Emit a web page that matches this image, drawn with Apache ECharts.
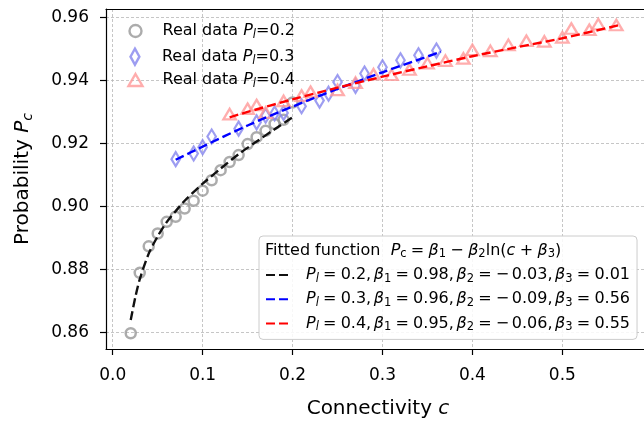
<!DOCTYPE html>
<html>
<head>
<meta charset="utf-8">
<script src="https://cdn.jsdelivr.net/npm/echarts@6/dist/echarts.min.js"></script>
<style>
html,body{margin:0;padding:0;background:#fff;}
#chart{width:644px;height:422px;}
</style>
</head>
<body>
<div id="chart"></div>
<script>
// ---- data ----
const xTicks = [0.0, 0.1, 0.2, 0.3, 0.4, 0.5];
const yTicks = [0.86, 0.88, 0.90, 0.92, 0.94, 0.96];

const grayX = [0.02,0.03,0.04,0.05,0.06,0.07,0.08,0.09,0.10,0.11,0.12,0.13,0.14,0.15,0.16,0.17,0.18,0.19,0.20];
const grayY = [0.8597,0.8789,0.8873,0.8914,0.8951,0.8967,0.8993,0.9018,0.9050,0.9083,0.9115,0.9141,0.9163,0.9198,0.9220,0.9240,0.9262,0.9275,0.9330];

const blueX = [0.07,0.09,0.10,0.11,0.14,0.16,0.17,0.18,0.19,0.21,0.23,0.24,0.25,0.27,0.28,0.30,0.32,0.34,0.36];
const blueY = [0.9150,0.9168,0.9188,0.9222,0.9247,0.9267,0.9288,0.9295,0.9297,0.9318,0.9336,0.9358,0.9395,0.9383,0.9422,0.9442,0.9464,0.9480,0.9495];

const redX = [0.13,0.15,0.16,0.17,0.19,0.21,0.22,0.25,0.27,0.29,0.31,0.33,0.35,0.37,0.39,0.40,0.42,0.44,0.46,0.48,0.50,0.51,0.53,0.54,0.56];
const redY = [0.9293,0.9310,0.9322,0.9298,0.9335,0.9352,0.9364,0.9370,0.9393,0.9420,0.9418,0.9435,0.9455,0.9463,0.9470,0.9497,0.9494,0.9513,0.9526,0.9524,0.9537,0.9565,0.9561,0.9579,0.9576];

const fitBlackX = [0.02,0.025,0.03,0.04,0.05,0.06,0.07,0.08,0.10,0.12,0.14,0.16,0.18,0.20];
const fitBlackY = [0.8639,0.8710,0.8768,0.8850,0.8905,0.8950,0.8985,0.9018,0.9072,0.9120,0.9166,0.9206,0.9245,0.9283];

const fitBlueX = [0.07,0.10,0.15,0.20,0.25,0.30,0.365];
const fitBlueY = [0.9148,0.9190,0.9257,0.9317,0.9373,0.9426,0.9491];

const fitRedX = [0.13,0.15,0.20,0.25,0.30,0.35,0.40,0.45,0.50,0.565];
const fitRedY = [0.9283,0.9300,0.9340,0.9377,0.9412,0.9445,0.9477,0.9506,0.9534,0.9577];

const realNames = ['Real data P_l=0.2','Real data P_l=0.3','Real data P_l=0.4'];
const fitNames = ['P_l = 0.2, β_1 = 0.98, β_2 = −0.03, β_3 = 0.01',
                  'P_l = 0.3, β_1 = 0.96, β_2 = −0.09, β_3 = 0.56',
                  'P_l = 0.4, β_1 = 0.95, β_2 = −0.06, β_3 = 0.55'];

// ---- styling ----
const FONT = 'DejaVu Sans';
const pair = (xs, ys) => xs.map((x, i) => [x, ys[i]]);
const cGray = '#979797', cBlue = '#8585ee', cRed = '#ff9999';

function richSet(fs, sub) {
  return {
    n: {fontFamily: FONT, fontSize: fs, color: '#000', fill:'#000', lineHeight: 20, verticalAlign: 'middle'},
    i: {fontFamily: FONT, fontSize: fs, fontStyle: 'italic', color: '#000', fill:'#000', lineHeight: 20, verticalAlign: 'middle'},
    s: {fontFamily: FONT, fontSize: sub, fontStyle: 'italic', color: '#000', fill:'#000', lineHeight: 20, verticalAlign: 'bottom'},
    sn: {fontFamily: FONT, fontSize: sub, color: '#000', fill:'#000', lineHeight: 20, verticalAlign: 'bottom'},
    gr: {width: 4.2, lineHeight: 20},
    gc: {width: 2.6, lineHeight: 20},
    gm: {width: 2.6, lineHeight: 20},
    gb: {width: 4.4, lineHeight: 20},
    sp1: {width: 16, lineHeight: 20},
    sp2: {width: 17, lineHeight: 20},
    sp3: {width: 15, lineHeight: 20},
    spf: {width: 10, lineHeight: 20}
  };
}

function realFmt(sp) {
  return function (name) {
    const v = name.split('=')[1];
    return '{' + sp + '| }{n|Real data }{i|P}{s|l}{n|=' + v + '}';
  };
}
function fitFmt(name) {
  const parts = name.split(', ');
  let out = '{spf| }';
  parts.forEach((p, k) => {
    const m = p.split(' = ');
    const sym = m[0].split('_');
    const base = sym[0];
    const sub = sym[1];
    let val = m[1];
    out += '{i|' + base + '}' + (sub === 'l' ? '{s|l}' : '{sn|' + sub + '}') + '{gr| }{n|=}{gr| }';
    if (val.charAt(0) === '−') {
      out += '{n|−}{gm| }';
      val = val.slice(1);
    }
    out += '{n|' + val + (k < parts.length - 1 ? ',' : '') + '}' + (k < parts.length - 1 ? '{gc| }' : '');
  });
  return out;
}

const rowY = [33, 57.5, 82];
const iconDims = [[12, 12], [10, 16], [14, 12]];
const iconColors = [cGray, cBlue, cRed];
const iconTypes = ['circle', 'path://M5,0 L10,9 L5,18 L0,9 Z', 'triangle'];
const spNames = ['sp1', 'sp2', 'sp3'];
const iconCx = 134.3;

const realLegends = realNames.map((nm, k) => ({
  show: true,
  selectedMode: false,
  orient: 'vertical',
  left: iconCx - iconDims[k][0] / 2,
  top: rowY[k] - 10,
  padding: 0,
  itemWidth: iconDims[k][0],
  itemHeight: iconDims[k][1],
  data: [{name: nm, icon: iconTypes[k],
          itemStyle: {color: 'rgba(0,0,0,0)', borderColor: iconColors[k], borderWidth: 2.4}}],
  formatter: realFmt(spNames[k]),
  textStyle: {fontFamily: FONT, fontSize: 16, color: '#000', rich: richSet(16, 11.5)}
}));

const fitLegend = {
  show: true,
  selectedMode: false,
  orient: 'vertical',
  align: 'left',
  left: 259,
  top: 236,
  padding: [31, 7, 6, 6],
  itemGap: 6.2,
  itemWidth: 25,
  itemHeight: 14,
  backgroundColor: 'rgba(255,255,255,0.85)',
  borderColor: '#cccccc',
  borderWidth: 1,
  borderRadius: 4,
  z: 10,
  itemStyle: {color: 'rgba(0,0,0,0)', borderWidth: 0, opacity: 0},
  data: fitNames,
  formatter: fitFmt,
  textStyle: {fontFamily: FONT, fontSize: 16, color: '#000', rich: richSet(16, 11.5)}
};

const gridLine = {show: true, lineStyle: {color: '#b8b8b8', width: 0.8, type: [3, 2]}};
const DASH = [9, 4];

const option = {
  animation: false,
  backgroundColor: '#fff',
  grid: {left: 106, right: -6, top: 9, bottom: 73, containLabel: false, outerBoundsMode: 'none'},
  legend: realLegends.concat([fitLegend]),
  graphic: [{
    type: 'text', x: 265, y: 250.5, z: 100,
    style: {
      text: '{n|Fitted function  }{i|P}{sn|c}{gr| }{n|=}{gr| }{i|β}{sn|1}{gb| }{n|−}{gb| }{i|β}{sn|2}{n|ln(}{i|c}{gb| }{n|+}{gb| }{i|β}{sn|3}{n|)}',
      rich: richSet(16, 11.5),
      verticalAlign: 'middle',
      fill: '#000'
    }
  }],
  xAxis: [{
    type: 'value', position: 'bottom', min: -0.0075, max: 0.5975,
    axisLine: {show: true, onZero: false, lineStyle: {color: '#000', width: 1.2}},
    axisTick: {show: true, length: 6, customValues: xTicks, lineStyle: {color: '#000', width: 1.2}},
    axisLabel: {show: true, customValues: xTicks, margin: 18, formatter: v => v.toFixed(1),
                fontFamily: FONT, fontSize: 17, color: '#000'},
    splitLine: gridLine,
    name: '{n|Connectivity }{i|c}', nameLocation: 'middle', nameGap: 50,
    nameTextStyle: {rich: {
      n: {fontFamily: FONT, fontSize: 20, color: '#000'},
      i: {fontFamily: FONT, fontSize: 20, fontStyle: 'italic', color: '#000'}
    }}
  }, {
    type: 'value', position: 'top', min: -0.0075, max: 0.5975,
    axisLine: {show: true, onZero: false, lineStyle: {color: '#000', width: 1.2}},
    axisTick: {show: false}, axisLabel: {show: false}, splitLine: {show: false}
  }],
  yAxis: [{
    type: 'value', min: 0.8547, max: 0.9627,
    axisLine: {show: true, onZero: false, lineStyle: {color: '#000', width: 1.2}},
    axisTick: {show: true, length: 6, customValues: yTicks, lineStyle: {color: '#000', width: 1.2}},
    axisLabel: {show: true, customValues: yTicks, margin: 17, formatter: v => v.toFixed(2),
                fontFamily: FONT, fontSize: 17, color: '#000'},
    splitLine: gridLine,
    name: '{n|Probability }{i|P}{s|c}', nameLocation: 'middle', nameGap: 71, nameRotate: 90,
    nameTextStyle: {rich: {
      n: {fontFamily: FONT, fontSize: 20, color: '#000', lineHeight: 24, verticalAlign: 'middle'},
      i: {fontFamily: FONT, fontSize: 20, fontStyle: 'italic', color: '#000', lineHeight: 24, verticalAlign: 'middle'},
      s: {fontFamily: FONT, fontSize: 14, fontStyle: 'italic', color: '#000', lineHeight: 24, verticalAlign: 'bottom'}
    }}
  }],
  series: [
    {name: realNames[0], type: 'scatter', data: pair(grayX, grayY), symbol: 'circle', symbolSize: 10,
     itemStyle: {color: 'rgba(0,0,0,0)', borderColor: cGray, borderWidth: 2.5}, z: 2},
    {name: realNames[1], type: 'scatter', data: pair(blueX, blueY), symbol: 'diamond', symbolSize: [8.5, 14],
     itemStyle: {color: 'rgba(0,0,0,0)', borderColor: cBlue, borderWidth: 2.3}, z: 2},
    {name: realNames[2], type: 'scatter', data: pair(redX, redY), symbol: 'triangle', symbolSize: [12.5, 10.5],
     itemStyle: {color: 'rgba(0,0,0,0)', borderColor: cRed, borderWidth: 2.3}, z: 2},
    {name: fitNames[0], type: 'line', data: pair(fitBlackX, fitBlackY), symbol: 'none', smooth: 0.3,
     lineStyle: {color: '#111', width: 2.4, type: DASH}, itemStyle: {color: '#111'}, z: 5},
    {name: fitNames[1], type: 'line', data: pair(fitBlueX, fitBlueY), symbol: 'none', smooth: 0.3,
     lineStyle: {color: '#0000ff', width: 2.4, type: DASH}, itemStyle: {color: '#0000ff'}, z: 5},
    {name: fitNames[2], type: 'line', data: pair(fitRedX, fitRedY), symbol: 'none', smooth: 0.3,
     lineStyle: {color: '#ff0000', width: 2.4, type: DASH}, itemStyle: {color: '#ff0000'}, z: 5}
  ]
};

const chart = echarts.init(document.getElementById('chart'), null, {renderer: 'canvas'});
chart.setOption(option);
</script>
</body>
</html>
